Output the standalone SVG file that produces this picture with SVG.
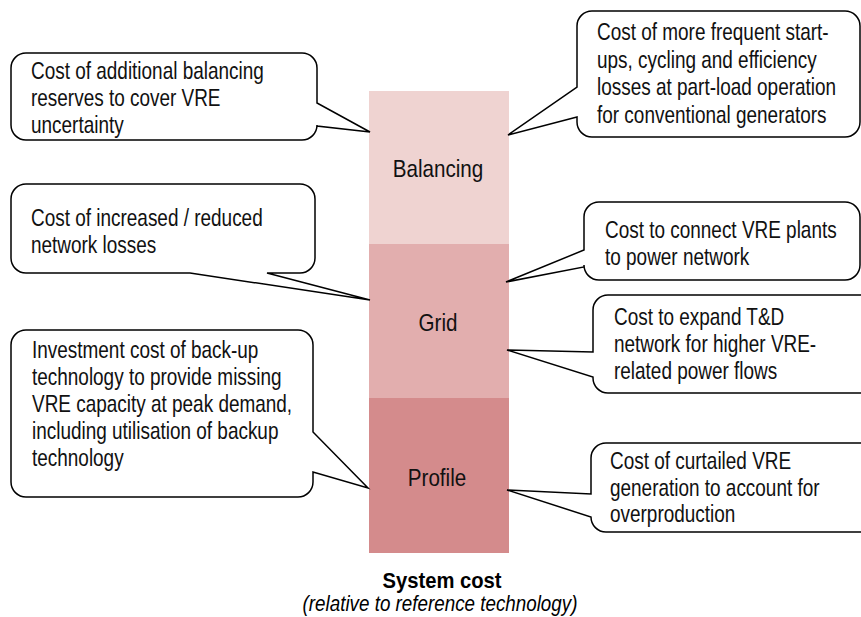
<svg xmlns="http://www.w3.org/2000/svg" width="861" height="617" viewBox="0 0 861 617">
<style>
.co{fill:#ffffff;stroke:#000000;stroke-width:1.5;stroke-linejoin:miter}
.t{font-family:"Liberation Sans",Arial,sans-serif;font-size:24px;fill:#111111}
.lbl{font-family:"Liberation Sans",Arial,sans-serif;font-size:24px;fill:#111111;text-anchor:middle}
.cap{font-family:"Liberation Sans",Arial,sans-serif;font-size:22px;fill:#000000;text-anchor:middle}
</style>
<rect width="861" height="617" fill="#ffffff"/>
<g id="bar">
  <g id="balancing">
    <rect x="369" y="91" width="140" height="153" fill="#EFD3D1"/>
    <text class="lbl" transform="translate(438,177) scale(0.86,1)">Balancing</text>
  </g>
  <g id="grid">
    <rect x="369" y="244" width="140" height="154" fill="#E2AEAE"/>
    <text class="lbl" transform="translate(438,331) scale(0.86,1)">Grid</text>
  </g>
  <g id="profile">
    <rect x="369" y="398" width="140" height="155" fill="#D48B8C"/>
    <text class="lbl" transform="translate(437,486) scale(0.86,1)">Profile</text>
  </g>
</g>
<g id="connectors"></g>
<g id="callout-balancing-reserves">
  <path class="co" d="M26,53 H302 A15,15 0 0 1 317,68 V103 L370,132 L317,126 V125 A15,15 0 0 1 302,140 H26 A15,15 0 0 1 11,125 V68 A15,15 0 0 1 26,53 Z"/>
  <text class="t" transform="translate(31,0) scale(0.79,1)"><tspan x="0" y="79">Cost of additional  balancing</tspan><tspan x="0" y="106">reserves to cover VRE</tspan><tspan x="0" y="133">uncertainty</tspan></text>
</g>
<g id="callout-cycling">
  <path class="co" d="M592,11 H845 A15,15 0 0 1 860,26 V122 A15,15 0 0 1 845,137 H592 A15,15 0 0 1 577,122 V117 L508,135 L577,87 V26 A15,15 0 0 1 592,11 Z"/>
  <text class="t" transform="translate(597,0) scale(0.79,1)"><tspan x="0" y="40">Cost of more frequent  start-</tspan><tspan x="0" y="68">ups, cycling and efficiency</tspan><tspan x="0" y="95">losses at part-load operation</tspan><tspan x="0" y="123">for conventional generators</tspan></text>
</g>
<g id="callout-network-losses">
  <path class="co" d="M26,184 H300 A15,15 0 0 1 315,199 V258 A15,15 0 0 1 300,273 H267 L370,300 L190,273 H26 A15,15 0 0 1 11,258 V199 A15,15 0 0 1 26,184 Z"/>
  <text class="t" transform="translate(31,0) scale(0.79,1)"><tspan x="0" y="226">Cost of increased / reduced</tspan><tspan x="0" y="253">network losses</tspan></text>
</g>
<g id="callout-connect">
  <path class="co" d="M599,202 H845 A15,15 0 0 1 860,217 V265 A15,15 0 0 1 845,280 H599 A15,15 0 0 1 584,265 V267 L506,282 L584,250 V217 A15,15 0 0 1 599,202 Z"/>
  <text class="t" transform="translate(605,0) scale(0.79,1)"><tspan x="0" y="238">Cost to connect VRE plants</tspan><tspan x="0" y="265">to power network</tspan></text>
</g>
<g id="callout-expand">
  <path class="co" d="M608,295 H880 V393 H608 A15,15 0 0 1 593,378 V377 L507,350 L593,352 V310 A15,15 0 0 1 608,295 Z"/>
  <text class="t" transform="translate(614,0) scale(0.79,1)"><tspan x="0" y="325">Cost to expand T&amp;D</tspan><tspan x="0" y="352">network for higher VRE-</tspan><tspan x="0" y="379">related power flows</tspan></text>
</g>
<g id="callout-backup">
  <path class="co" d="M26,330 H298 A15,15 0 0 1 313,345 V432 L368,488 L313,472 V482 A15,15 0 0 1 298,497 H26 A15,15 0 0 1 11,482 V345 A15,15 0 0 1 26,330 Z"/>
  <text class="t" transform="translate(32,0) scale(0.79,1)"><tspan x="0" y="358">Investment cost of back-up</tspan><tspan x="0" y="385">technology to provide missing</tspan><tspan x="0" y="412">VRE capacity at peak demand,</tspan><tspan x="0" y="439">including utilisation of backup</tspan><tspan x="0" y="466">technology</tspan></text>
</g>
<g id="callout-curtailed">
  <path class="co" d="M606,443 H880 V532 H606 A15,15 0 0 1 591,517 L507,490 L591,494 V458 A15,15 0 0 1 606,443 Z"/>
  <text class="t" transform="translate(610,0) scale(0.79,1)"><tspan x="0" y="469">Cost of curtailed VRE</tspan><tspan x="0" y="496">generation to account for</tspan><tspan x="0" y="522">overproduction</tspan></text>
</g>
<g id="caption">
  <text class="cap" font-weight="bold" transform="translate(442,588) scale(0.92,1)">System cost</text>
  <text class="cap" font-style="italic" transform="translate(440,611) scale(0.855,1)">(relative to reference technology)</text>
</g>
</svg>
